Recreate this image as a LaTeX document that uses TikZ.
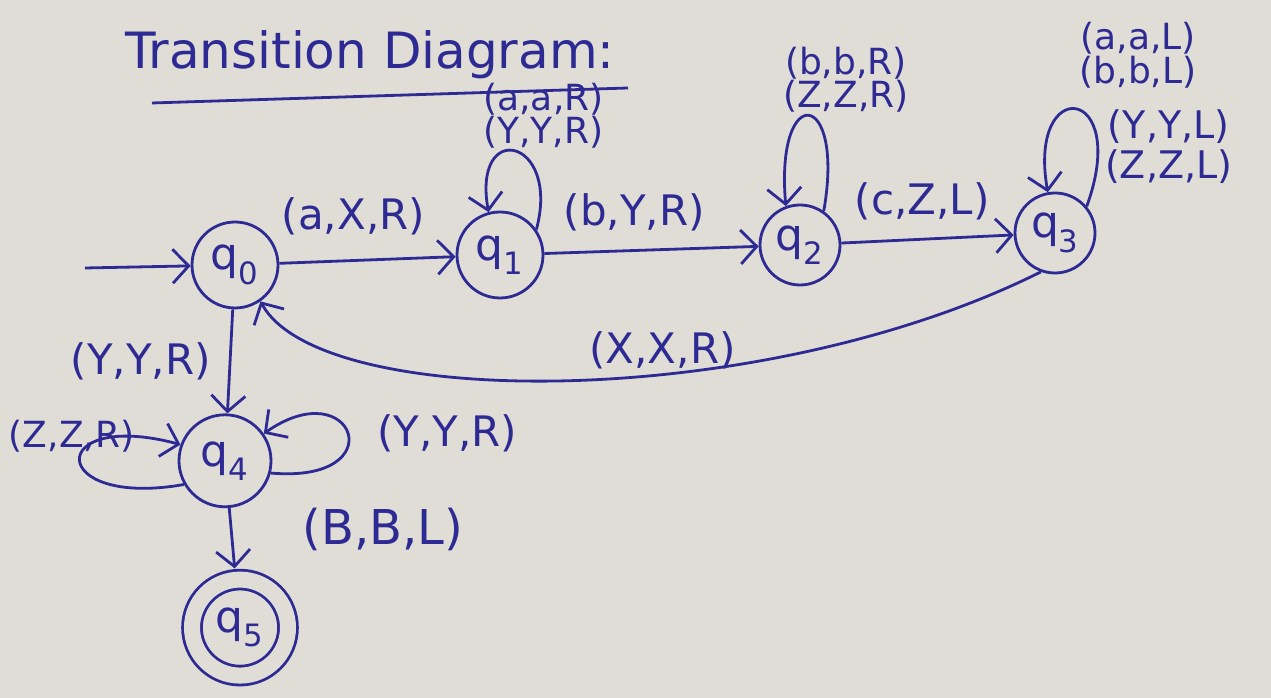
\documentclass[tikz,border=0pt]{standalone}
\usepackage{fontspec}
\setmainfont{DejaVu Sans}
\usepackage{tikz}
\usetikzlibrary{arrows.meta,positioning}

\definecolor{ink}{RGB}{46,42,148}
\definecolor{paper}{RGB}{224,221,214}

\begin{document}
\begin{tikzpicture}[x=1pt,y=1pt,color=ink,line width=2.8pt,
  >={Straight Barb[length=16pt,width=34pt]},
  state/.style={circle,draw,minimum size=86pt,inner sep=0pt,font=\fontsize{44}{44}\selectfont},
  final/.style={double=paper,double distance=16pt,minimum size=96pt},
  lbl/.style={font=\fontsize{42}{32}\selectfont,align=center,inner sep=2pt},
  small/.style={font=\fontsize{36}{28}\selectfont}]

  \useasboundingbox (0,0) rectangle (1271,698);
  \fill[paper] (0,0) rectangle (1271,698);

  \node[font=\fontsize{50}{50}\selectfont] (title) at (370,643) {Transition Diagram:};
  \coordinate (ul_a) at (152,595);
  \coordinate (ul_b) at (628,610);
  \draw (ul_a) -- (ul_b);

  %==================================================

  \node[state] (q_0) at (235,433) {q\textsubscript{0}};
  \node[state] (q_1) at (500,443) {q\textsubscript{1}};
  \node[state, minimum size=80pt] (q_2) at (800,453) {q\textsubscript{2}};
  \node[state, minimum size=80pt] (q_3) at (1055,465) {q\textsubscript{3}};
  \node[state, minimum size=92pt, xshift=-10pt, below=104pt of q_0] (q_4) {q\textsubscript{4}};
  \node[state, final, xshift=15pt, below=70pt of q_4] (q_5) {q\textsubscript{5}};
  \coordinate (start) at (85,430);

  %==================================================

  \draw[->] (start) -- (q_0);
  \draw[->] (q_0) -- node[lbl, above=22pt, pos=0.42] (l_01) {(a,X,R)} (q_1);
  \draw[->] (q_1) -- node[lbl, above=16pt, pos=0.42] (l_12) {(b,Y,R)} (q_2);
  \draw[->] (q_2) -- node[lbl, above=16pt, pos=0.47] (l_23) {(c,Z,L)} (q_3);
  \draw[->] (q_3.250) .. controls +(-280,-140) and +(60,-110) .. (q_0.-55)
    node[lbl, pos=0.4, above=2pt] (l_30) {(X,X,R)};
  \draw[->] (q_0) -- node[lbl, left=16pt] (l_04) {(Y,Y,R)} (q_4);
  \draw[->, shorten >=10pt] (q_4) -- node[lbl, font=\fontsize{48}{48}\selectfont, right=68pt, pos=0.3] (l_45) {(B,B,L)} (q_5);

  %==================================================

  \draw[->] (q_1.35) .. controls +(75:95) and +(100:95) .. (q_1.105)
    node[lbl, small, above, pos=0.5, xshift=28pt] (l_11) {(a,a,R)\\(Y,Y,R)};
  \draw[->] (q_2.55) .. controls +(80:125) and +(95:125) .. (q_2.110)
    node[lbl, small, above, pos=0.5, xshift=37pt] (l_22) {(b,b,R)\\(Z,Z,R)};
  \draw[->] (q_3.40) .. controls +(70:130) and +(100:120) .. (q_3.100)
    node[lbl, small, above=18pt, pos=0.5, xshift=62pt] (l_33a) {(a,a,L)\\(b,b,L)}
    node[lbl, font=\fontsize{38}{40}\selectfont, right=4pt, pos=0.2] (l_33b) {(Y,Y,L)\\(Z,Z,L)};
  \draw[->] (q_4.-15) .. controls +(-5:125) and +(35:110) .. (q_4.35)
    node[lbl, right=26pt, pos=0.5] (l_44a) {(Y,Y,R)};
  \draw[->] (q_4.210) .. controls +(190:140) and +(165:140) .. (q_4.160);
  \node[lbl, small, yshift=25pt, left=40pt of q_4] (l_44b) {(Z,Z,R)};

\end{tikzpicture}
\end{document}
